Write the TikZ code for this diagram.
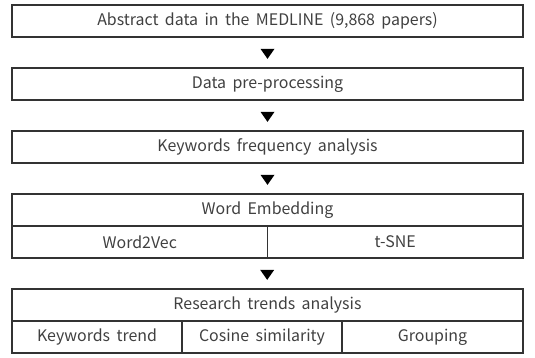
\documentclass[tikz,border=0pt]{standalone}
\usepackage{fontspec}
\setmainfont{Noto Sans CJK KR}
\usetikzlibrary{shapes.geometric,calc}

\newcommand{\cellfont}{\fontsize{16}{18}\selectfont\spaceskip=0.4em plus 0.1em\relax}

\tikzset{
  cell/.style={draw=black!80, line width=1.2bp, rectangle, inner sep=0pt,
    minimum height=32bp, text=black!75, font=\cellfont},
  arrowhead/.style={draw=none, fill=black, isosceles triangle,
    shape border rotate=270, isosceles triangle apex angle=70,
    inner sep=0pt, minimum height=10bp, minimum width=12bp},
}

\begin{document}
\begin{tikzpicture}[x=1bp,y=-1bp]
\useasboundingbox (0,0) rectangle (535,357);

% single-row steps
\node[cell, minimum width=511bp] (b1) at (267.5,21) {Abstract data in the MEDLINE (9,868 papers)};
\node[cell, minimum width=511bp] (b2) at (267.5,84) {Data pre-processing};
\node[cell, minimum width=511bp] (b3) at (267.5,147) {Keywords frequency analysis};

% word embedding step with two methods
\node[cell, minimum width=511bp] (b4) at (267.5,210) {Word Embedding};
\node[cell, minimum width=255.5bp] (w2v) at (139.75,242) {Word2Vec};
\node[cell, minimum width=255.5bp] (tsne) at (395.25,242) {t-SNE};

% research trends step with three analyses
\node[cell, minimum width=511bp] (b5) at (267.5,305) {Research trends analysis};
\node[cell, minimum width=170bp] (kt) at (97,337) {Keywords trend};
\node[cell, minimum width=160bp] (cs) at (262,337) {Cosine similarity};
\node[cell, minimum width=181bp] (gr) at (432.5,337) {Grouping};

% arrowheads between steps
\node[arrowhead] (a1) at ($(b1.south)!0.5!(b2.north)$) {};
\node[arrowhead] (a2) at ($(b2.south)!0.5!(b3.north)$) {};
\node[arrowhead] (a3) at ($(b3.south)!0.5!(b4.north)$) {};
\node[arrowhead] (a4) at ($(tsne.south west)!0.5!(b5.north)$) {};
\end{tikzpicture}
\end{document}
